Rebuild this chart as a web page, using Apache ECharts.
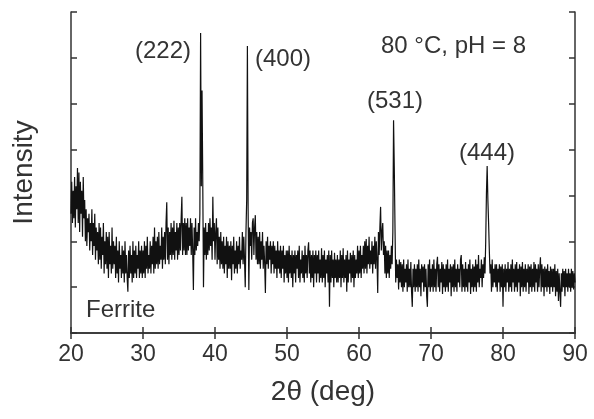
<!DOCTYPE html>
<html>
<head>
<meta charset="utf-8">
<script src="https://cdn.jsdelivr.net/npm/echarts@6/dist/echarts.min.js"></script>
<style>
html, body { margin: 0; padding: 0; background: #fff; }
#main { width: 594px; height: 419px; }
</style>
</head>
<body>
<div id="main"></div>
<script>
// 2θ grid: 20 -> 90 deg, 0.1 deg step
var thetaStart = 20;
var thetaStep = 0.1;
var xTicks = [20, 30, 40, 50, 60, 70, 80, 90];

// intensity, one row per degree
var intensity = [
	2.6, 3.3, 2.4, 3.1, 2.5, 3.4, 2.3, 3.2, 2.7, 3.6,
	2.4, 3.5, 2.2, 3.3, 2.6, 3.1, 2.1, 3.4, 2.5, 2.9,
	2.0, 2.7, 1.9, 2.5, 2.2, 2.6, 1.8, 2.4, 2.0, 2.7,
	1.7, 2.4, 1.9, 2.6, 1.6, 2.3, 1.8, 2.2, 1.5, 2.4,
	1.6, 2.3, 1.4, 2.1, 1.7, 2.4, 1.3, 2.0, 1.5, 2.2,
	1.4, 2.1, 1.2, 2.2, 1.5, 1.9, 1.3, 2.3, 1.4, 2.0,
	1.5, 1.9, 1.2, 2.1, 1.3, 1.8, 1.1, 2.0, 1.4, 1.7,
	1.2, 1.9, 1.3, 1.8, 1.1, 2.0, 1.3, 1.7, 1.2, 0.9,
	1.8, 1.2, 1.9, 1.3, 1.7, 1.1, 2.0, 1.2, 1.8, 1.3,
	1.9, 1.2, 1.7, 1.4, 2.0, 1.2, 1.8, 1.3, 1.9, 1.2,
	1.8, 1.3, 2.0, 1.2, 1.9, 1.4, 2.1, 1.3, 1.7, 1.4,
	2.0, 1.3, 1.9, 1.5, 2.1, 1.3, 2.3, 1.4, 2.0, 1.5,
	2.1, 1.4, 2.2, 1.5, 1.9, 1.6, 2.3, 1.4, 2.1, 1.6,
	2.2, 1.5, 2.4, 2.85, 1.6, 2.3, 1.5, 2.2, 1.7, 2.4,
	1.6, 2.3, 1.7, 2.45, 1.6, 2.2, 1.8, 2.4, 1.6, 2.3,
	1.7, 2.4, 1.8, 2.5, 2.97, 1.7, 2.4, 1.8, 2.5, 1.7,
	2.4, 1.7, 2.5, 1.8, 2.3, 1.9, 2.5, 1.7, 2.4, 1.8,
	0.94, 2.3, 1.7, 2.5, 1.8, 2.2, 1.9, 2.4, 2.0, 2.6,
	6.54, 3.2, 5.29, 3.3, 1.0, 2.3, 1.7, 2.4, 1.6, 2.2,
	1.7, 2.4, 1.8, 2.5, 1.9, 2.3, 1.6, 2.97, 2.0, 2.4,
	1.6, 2.2, 2.5, 1.5, 2.3, 1.6, 2.1, 1.4, 2.2, 1.5,
	2.0, 1.4, 2.1, 1.3, 1.9, 1.5, 2.1, 1.2, 2.0, 1.4,
	1.9, 1.4, 2.0, 1.15, 1.9, 1.5, 2.1, 1.3, 1.8, 1.4,
	2.0, 1.3, 1.9, 1.5, 2.1, 1.4, 1.8, 1.6, 2.2, 1.5,
	2.1, 1.6, 1.0, 2.2, 2.9, 6.26, 2.7, 0.94, 2.3, 1.9,
	2.2, 1.6, 2.4, 2.5, 1.7, 2.3, 2.57, 1.6, 2.2, 1.5,
	2.1, 1.5, 2.2, 1.4, 2.0, 1.6, 2.2, 1.4, 1.9, 1.5,
	0.87, 2.0, 1.5, 2.1, 1.4, 1.9, 1.6, 2.0, 1.3, 1.9,
	1.5, 2.0, 1.3, 1.9, 1.4, 1.8, 1.2, 2.0, 1.4, 1.8,
	1.3, 1.9, 1.2, 1.8, 1.4, 1.9, 1.1, 1.7, 1.3, 1.8,
	1.2, 1.8, 1.1, 1.9, 1.3, 1.7, 1.2, 1.8, 1.0, 1.7,
	1.3, 1.8, 1.1, 1.7, 1.4, 1.8, 1.2, 1.9, 1.1, 1.6,
	1.3, 1.8, 1.2, 1.7, 1.1, 1.9, 1.3, 1.7, 1.2, 1.8,
	1.98, 1.3, 1.8, 1.1, 1.7, 1.2, 1.8, 1.0, 1.7, 1.3,
	1.8, 1.1, 1.7, 1.3, 1.8, 1.1, 1.6, 1.2, 1.85, 1.1,
	1.7, 1.2, 1.8, 1.0, 1.6, 1.3, 1.7, 1.1, 1.8, 0.57,
	1.7, 1.1, 1.8, 1.2, 1.6, 1.0, 1.75, 1.2, 1.6, 1.1,
	1.7, 1.1, 1.6, 1.2, 1.8, 1.0, 1.7, 1.2, 1.85, 1.1,
	1.6, 1.2, 1.7, 0.9, 1.8, 1.1, 1.6, 1.3, 1.75, 1.1,
	1.7, 1.2, 1.8, 1.0, 1.7, 1.2, 1.6, 1.3, 1.9, 1.2,
	1.8, 1.3, 1.9, 1.2, 1.7, 1.4, 1.9, 1.3, 2.0, 1.4,
	2.05, 1.3, 1.9, 1.5, 2.1, 1.4, 1.8, 1.5, 2.0, 1.3,
	1.9, 1.5, 2.1, 1.4, 2.0, 1.6, 0.87, 2.2, 1.7, 2.3,
	2.75, 1.8, 2.2, 2.4, 1.7, 2.0, 1.3, 1.9, 1.2, 1.8,
	1.3, 1.8, 1.2, 1.7, 1.4, 1.9, 1.5, 2.2, 4.64, 3.62,
	2.3, 1.1, 1.6, 1.2, 1.5, 0.95, 1.6, 1.1, 1.55, 1.0,
	1.5, 0.9, 1.6, 1.0, 1.4, 1.1, 1.5, 0.9, 1.6, 1.0,
	1.4, 1.0, 1.55, 0.9, 0.57, 1.4, 1.0, 1.5, 0.9, 1.4,
	1.0, 1.5, 0.9, 1.6, 1.0, 1.4, 0.8, 1.5, 1.1, 1.45,
	0.9, 1.5, 1.0, 1.4, 0.8, 0.57, 1.5, 1.0, 1.6, 0.9,
	1.4, 1.0, 1.5, 0.9, 1.6, 1.0, 1.4, 0.9, 1.5, 1.66,
	1.0, 1.5, 0.9, 1.4, 1.1, 1.55, 0.85, 1.5, 1.0, 1.4,
	0.9, 1.5, 1.0, 1.6, 0.9, 1.4, 1.1, 1.5, 0.8, 1.45,
	1.0, 1.5, 0.9, 1.6, 1.0, 1.4, 0.9, 1.5, 1.1, 1.4,
	1.0, 1.6, 1.7, 0.9, 1.5, 1.0, 1.4, 0.9, 1.55, 1.0,
	1.4, 0.9, 1.5, 1.1, 1.6, 0.85, 1.4, 1.0, 1.5, 0.9,
	1.45, 1.0, 1.6, 0.9, 1.5, 1.1, 1.7, 1.0, 1.4, 1.2,
	1.6, 1.0, 1.5, 1.2, 1.65, 1.3, 2.0, 3.05, 3.64, 2.9,
	2.4, 1.8, 1.3, 1.5, 0.9, 1.6, 1.0, 1.4, 1.1, 1.5,
	1.0, 1.5, 0.9, 1.4, 1.1, 1.5, 0.9, 1.45, 1.0, 1.5,
	0.57, 1.4, 1.0, 1.5, 0.9, 1.4, 1.1, 1.55, 0.9, 1.4,
	1.0, 1.5, 0.9, 1.6, 1.1, 1.4, 0.9, 1.5, 1.0, 1.55,
	0.9, 1.4, 1.1, 1.5, 0.8, 1.45, 1.0, 1.55, 0.9, 1.4,
	1.0, 1.5, 0.9, 1.4, 1.1, 1.5, 0.85, 1.45, 1.0, 1.5,
	0.9, 1.4, 1.0, 1.55, 0.9, 1.5, 1.1, 1.4, 0.9, 1.5,
	1.0, 1.4, 1.65, 0.9, 1.5, 1.0, 1.4, 0.8, 1.45, 1.0,
	1.4, 0.9, 1.5, 1.0, 1.35, 0.85, 1.45, 1.0, 1.4, 0.9,
	1.4, 1.0, 1.5, 0.8, 1.35, 0.9, 1.4, 0.7, 1.3, 0.9,
	0.57, 1.3, 0.9, 1.4, 1.0, 1.35, 0.8, 1.4, 1.0, 1.3,
	0.9, 1.4, 1.0, 1.3, 0.9, 1.4, 1.0, 1.35, 0.95, 1.3,
	1.1
];

// peak labels and notes
var peakLabels = ['(222)', '(400)', '(531)', '(444)'];
var noteText = '80 \u00B0C, pH = 8';
var sampleText = 'Ferrite';

var font = '"Liberation Sans", Arial, sans-serif';
var ink = '#333';

var myChart = echarts.init(document.getElementById('main'));

var points = intensity.map(function(v, i) {
	return [+(thetaStart + i * thetaStep).toFixed(1), v];
});

function textEl(str, x, y) {
	return {
		type: 'text',
		left: x,
		top: y,
		style: {
			text: str,
			fill: ink,
			font: '24px ' + font
		}
	};
}

var axisLineStyle = { color: '#333', width: 1.5 };

var option = {
	animation: false,
	grid: { left: 71, top: 12, width: 504, height: 321 },
	xAxis: [{
		type: 'value',
		min: 20,
		max: 90,
		interval: 10,
		name: '2\u03B8 (deg)',
		nameLocation: 'middle',
		nameGap: 45,
		nameTextStyle: { fontFamily: font, fontSize: 28, color: ink },
		axisLine: { lineStyle: axisLineStyle },
		axisTick: { inside: true, length: 6, lineStyle: axisLineStyle },
		axisLabel: {
			fontFamily: font, fontSize: 23, color: ink, margin: 10,
			formatter: function(v) { return xTicks.indexOf(v) >= 0 ? String(v) : ''; }
		},
		splitLine: { show: false }
	}, {
		type: 'value',
		position: 'top',
		min: 20,
		max: 90,
		interval: 10,
		axisLine: { lineStyle: axisLineStyle },
		axisTick: { inside: true, length: 6, lineStyle: axisLineStyle },
		axisLabel: { show: false },
		splitLine: { show: false }
	}],
	yAxis: [{
		type: 'value',
		min: 0,
		max: 7,
		interval: 1,
		name: 'Intensity',
		nameLocation: 'middle',
		nameGap: 33,
		nameTextStyle: { fontFamily: font, fontSize: 28, color: ink },
		axisLine: { show: true, lineStyle: axisLineStyle },
		axisTick: { show: true, inside: true, length: 6, lineStyle: axisLineStyle },
		axisLabel: { show: false },
		splitLine: { show: false }
	}, {
		type: 'value',
		position: 'right',
		min: 0,
		max: 7,
		interval: 1,
		axisLine: { show: true, lineStyle: axisLineStyle },
		axisTick: { show: true, inside: true, length: 6, lineStyle: axisLineStyle },
		axisLabel: { show: false },
		splitLine: { show: false }
	}],
	series: [{
		type: 'line',
		data: points,
		showSymbol: false,
		symbol: 'none',
		lineStyle: { color: '#111', width: 1.2 },
		clip: true
	}],
	graphic: [
		textEl(peakLabels[0], 135, 39),
		textEl(peakLabels[1], 255, 47),
		textEl(peakLabels[2], 367, 89),
		textEl(peakLabels[3], 459, 141),
		textEl(noteText, 381, 34),
		textEl(sampleText, 86, 298)
	]
};

myChart.setOption(option);
</script>
</body>
</html>
